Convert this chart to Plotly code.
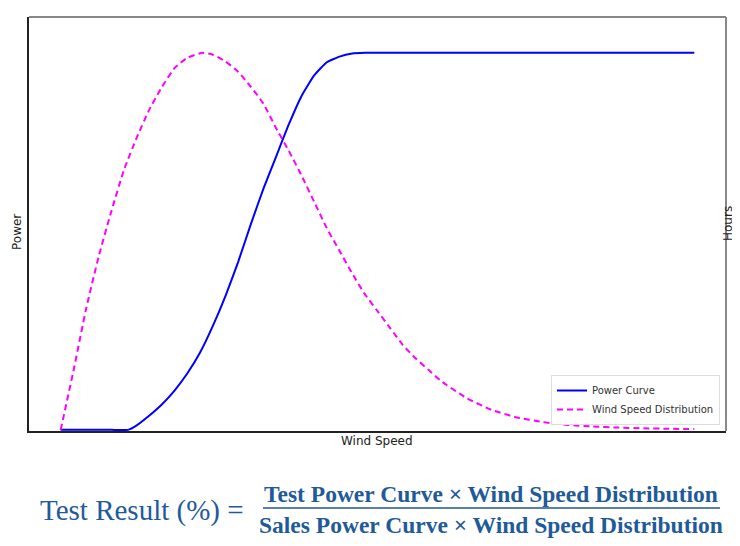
import plotly.graph_objects as go

# wind speed (m/s)
speed_dist = [0, 0.5, 1, 1.5, 2, 2.5, 3, 3.5, 4, 4.5, 5, 5.6, 6, 6.5, 7, 7.5, 8, 8.5,
              9, 9.5, 10, 10.5, 11, 11.5, 12, 12.5, 13, 13.5, 14, 14.5, 15, 16, 17,
              18, 19, 20, 21, 22, 23, 24, 25]
wind_dist = [0, 0.155, 0.32, 0.46, 0.58, 0.69, 0.775, 0.85, 0.91, 0.96, 0.987, 1.0,
             0.995, 0.977, 0.95, 0.91, 0.865, 0.80, 0.74, 0.675, 0.605, 0.535, 0.475,
             0.415, 0.36, 0.315, 0.27, 0.225, 0.19, 0.16, 0.13, 0.085, 0.053, 0.033,
             0.021, 0.013, 0.009, 0.006, 0.004, 0.003, 0.002]

speed_power = [0, 1, 2, 2.65, 3, 3.5, 4, 4.5, 5, 5.5, 6, 6.5, 7, 7.5, 8, 8.5, 9, 9.5,
               10, 10.5, 11, 11.5, 12, 13, 14, 15, 16, 17, 18, 19, 20, 21, 22, 23, 24, 25]
power = [0, 0, 0, 0, 0.012, 0.038, 0.068, 0.105, 0.15, 0.205, 0.275, 0.355, 0.445, 0.545,
         0.64, 0.725, 0.81, 0.885, 0.94, 0.975, 0.99, 0.998, 1.0, 1, 1, 1, 1, 1, 1,
         1, 1, 1, 1, 1, 1, 1]

formula_left = "Test Result (%) ="
formula_top = "Test Power Curve × Wind Speed Distribution"
formula_bottom = "Sales Power Curve × Wind Speed Distribution"

# the page has an 8px body margin, so the figure sits 8px in from the window corner
OFF = 8
W, H = 740 - OFF, 546 - OFF
L, R, T, B = 29, 726, 17, 431   # plot box in window pixels


def px_x(p):
    return (p - L) / (R - L)


def px_y(p):
    return (B - p) / (B - T)


fig = go.Figure()
fig.add_trace(go.Scatter(
    x=speed_power, y=power, mode="lines", name="Power Curve",
    line=dict(color="#0000ff", width=2, shape="spline", smoothing=0.4),
))
fig.add_trace(go.Scatter(
    x=speed_dist, y=wind_dist, mode="lines", name="Wind Speed Distribution",
    line=dict(color="#ff00ff", width=2, dash="6px,4px", shape="spline", smoothing=0.5),
))

axis_common = dict(showgrid=False, zeroline=False, showticklabels=False, ticks="",
                   showline=True, linecolor="#222", linewidth=2, automargin=False)
fig.update_xaxes(range=[-1.25, 26.25], **axis_common)
fig.update_yaxes(range=[-0.003, 1.095], **axis_common)

# lighter top / right frame
fig.add_shape(type="line", xref="paper", yref="paper", x0=0, x1=1, y0=1, y1=1,
              line=dict(color="#888", width=2))
fig.add_shape(type="line", xref="paper", yref="paper", x0=1, x1=1, y0=0, y1=1,
              line=dict(color="#888", width=2))


def label(text, x, y, angle=0, size=12, color="#222", family="DejaVu Sans"):
    fig.add_annotation(text=text, xref="paper", yref="paper", x=px_x(x), y=px_y(y),
                       xanchor="center", yanchor="middle", textangle=angle,
                       showarrow=False, font=dict(family=family, size=size, color=color))


label("Power", 17, 232, angle=-90)
label("Wind Speed", 377, 441)
label("Hours", 728, 224, angle=-90)

blue = "#1f5a99"
label(formula_left, 142, 510, size=29, color=blue, family="Liberation Serif")
label("<b>" + formula_top + "</b>", 491, 494, size=23.5, color=blue,
      family="Liberation Serif")
label("<b>" + formula_bottom + "</b>", 491, 525, size=23.5, color=blue,
      family="Liberation Serif")
fig.add_shape(type="line", xref="paper", yref="paper", x0=px_x(263), x1=px_x(720),
              y0=px_y(508), y1=px_y(508), line=dict(color="#5a7fa8", width=2))

fig.update_layout(
    width=W, height=H,
    margin=dict(l=L - OFF, r=W - (R - OFF), t=T - OFF, b=H - (B - OFF), autoexpand=False),
    paper_bgcolor="white", plot_bgcolor="white",
    font=dict(family="DejaVu Sans", color="#222"),
    showlegend=True,
    legend=dict(x=px_x(720), y=px_y(425), xanchor="right", yanchor="bottom",
                bgcolor="white", bordercolor="#ddd", borderwidth=1,
                font=dict(size=10, color="#333"), itemwidth=30, tracegroupgap=0),
)

fig.write_html("out.html")
